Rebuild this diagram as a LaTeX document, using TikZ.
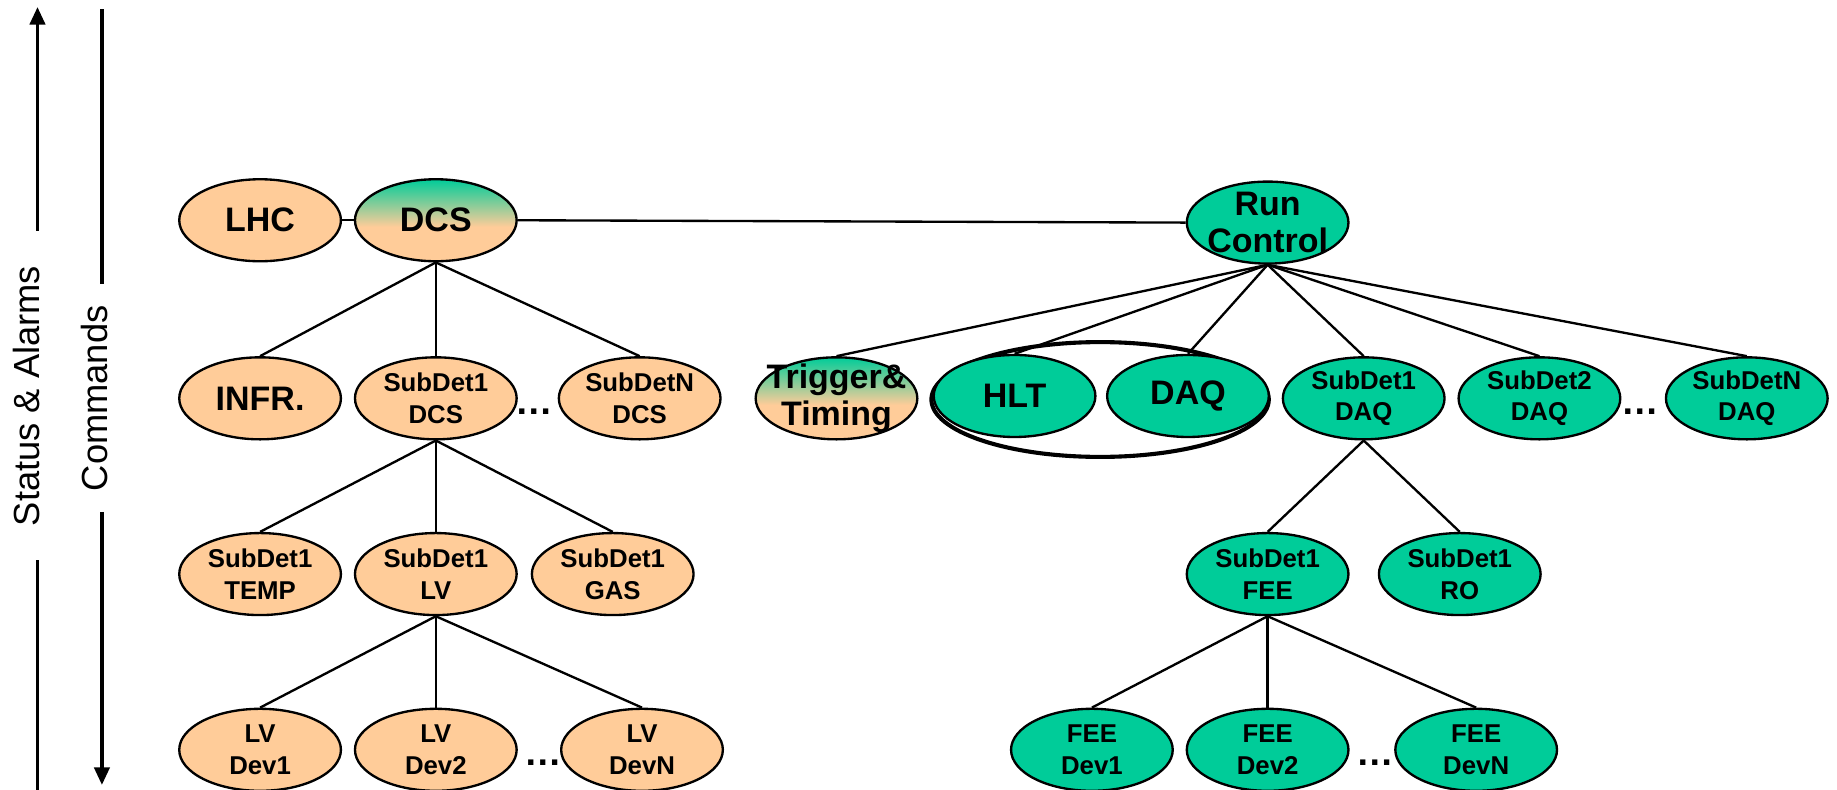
\documentclass[tikz,border=0pt]{standalone}
\usepackage{fontspec}
\setmainfont{Liberation Sans}
\usetikzlibrary{shapes.geometric,arrows.meta,backgrounds}
\definecolor{peach}{HTML}{FFCC99}
\definecolor{grn}{HTML}{00CC99}
\pgfdeclareverticalshading{dcsgrad}{100bp}{color(0bp)=(peach); color(46bp)=(peach); color(75bp)=(grn); color(100bp)=(grn)}
\begin{document}
\begin{tikzpicture}[x=1pt,y=-1pt,
  ell/.style={ellipse, draw=black, line width=2pt, minimum width=138pt, minimum height=70pt,
    inner xsep=-18pt, inner ysep=-16pt, align=center, font=\bfseries\fontsize{22}{27}\selectfont},
  onode/.style={ell, fill=peach},
  gnode/.style={ell, fill=grn},
  mixnode/.style={ell, shading=dcsgrad},
  bigtxt/.style={font=\bfseries\fontsize{29}{31}\selectfont},
  conn/.style={line width=2pt},
  axisline/.style={line width=3pt},
  axislabel/.style={rotate=90, font=\fontsize{31}{36}\selectfont},
  dotsnode/.style={anchor=base, inner sep=0pt, font=\bfseries\fontsize{32}{36}\selectfont},
  groupring/.style={ellipse, draw=black, line width=3.5pt, minimum width=288pt, minimum height=98pt, inner sep=0pt}
]
\useasboundingbox (0,0) rectangle (1568,674);

% side arrows
\node[axislabel] (sa) at (23,338) {Status \& Alarms};
\node[axislabel] (cmd) at (81,340) {Commands};
\coordinate (saTop) at (32,6);
\coordinate (saA) at (32,197);
\coordinate (saB) at (32,478);
\coordinate (saBot) at (32,674);
\coordinate (cmTop) at (87,8);
\coordinate (cmA) at (87,242);
\coordinate (cmB) at (87,437);
\coordinate (cmBot) at (87,670);
\draw[axisline, -{Triangle[width=13pt,length=15pt]}] (saA) -- (saTop);
\draw[axisline] (saB) -- (saBot);
\draw[axisline] (cmTop) -- (cmA);
\draw[axisline, -{Triangle[width=13pt,length=15pt]}] (cmB) -- (cmBot);

% row 1
\node[onode, bigtxt] (lhc) at (222,188) {LHC};
\node[mixnode, bigtxt] (dcs) at (372,188) {DCS};
\node[gnode, bigtxt] (rc) at (1082,190) {Run\\Control};

% row 2
\node[onode, bigtxt] (infr) at (222,340) {INFR.};
\node[onode] (sd1dcs) at (372,340) {SubDet1\\DCS};
\node[dotsnode] (dots1) at (456,354) {…};
\node[onode] (sdNdcs) at (546,340) {SubDetN\\DCS};
\node[mixnode, bigtxt] (trig) at (714,340) {Trigger\&\\Timing};
\node[groupring] (ring) at (939,341) {};
\node[gnode, bigtxt] (hlt) at (866,338) {HLT};
\node[gnode, bigtxt] (daq) at (1014,338) {DAQ};
\node[gnode] (sd1daq) at (1164,340) {SubDet1\\DAQ};
\node[gnode] (sd2daq) at (1314,340) {SubDet2\\DAQ};
\node[dotsnode] (dots2) at (1400,354) {…};
\node[gnode] (sdNdaq) at (1491,340) {SubDetN\\DAQ};

% row 3
\node[onode] (temp) at (222,490) {SubDet1\\TEMP};
\node[onode] (lv) at (372,490) {SubDet1\\LV};
\node[onode] (gas) at (523,490) {SubDet1\\GAS};
\node[gnode] (fee) at (1082,490) {SubDet1\\FEE};
\node[gnode] (ro) at (1246,490) {SubDet1\\RO};

% row 4
\node[onode] (lv1) at (222,640) {LV\\Dev1};
\node[onode] (lv2) at (372,640) {LV\\Dev2};
\node[dotsnode] (dots3) at (464,653) {…};
\node[onode] (lvN) at (548,640) {LV\\DevN};
\node[gnode] (fee1) at (932,640) {FEE\\Dev1};
\node[gnode] (fee2) at (1082,640) {FEE\\Dev2};
\node[dotsnode] (dots4) at (1174,653) {…};
\node[gnode] (feeN) at (1260,640) {FEE\\DevN};

\begin{scope}[on background layer]
  \draw[conn] (lhc) -- (dcs);
  \draw[conn] (dcs.east) -- (rc.west);
  \draw[conn] (dcs.south) -- (infr.north);
  \draw[conn] (dcs.south) -- (sd1dcs.north);
  \draw[conn] (dcs.south) -- (sdNdcs.north);
  \draw[conn] (sd1dcs.south) -- (temp.north);
  \draw[conn] (sd1dcs.south) -- (lv.north);
  \draw[conn] (sd1dcs.south) -- (gas.north);
  \draw[conn] (lv.south) -- (lv1.north);
  \draw[conn] (lv.south) -- (lv2.north);
  \draw[conn] (lv.south) -- (lvN.north);
  \draw[conn] (rc.south) -- (trig.north);
  \draw[conn] (rc.south) -- (hlt.north);
  \draw[conn] (rc.south) -- (daq.north);
  \draw[conn] (rc.south) -- (sd1daq.north);
  \draw[conn] (rc.south) -- (sd2daq.north);
  \draw[conn] (rc.south) -- (sdNdaq.north);
  \draw[conn] (sd1daq.south) -- (fee.north);
  \draw[conn] (sd1daq.south) -- (ro.north);
  \draw[conn] (fee.south) -- (fee1.north);
  \draw[conn] (fee.south) -- (fee2.north);
  \draw[conn] (fee.south) -- (feeN.north);
\end{scope}
\end{tikzpicture}
\end{document}
